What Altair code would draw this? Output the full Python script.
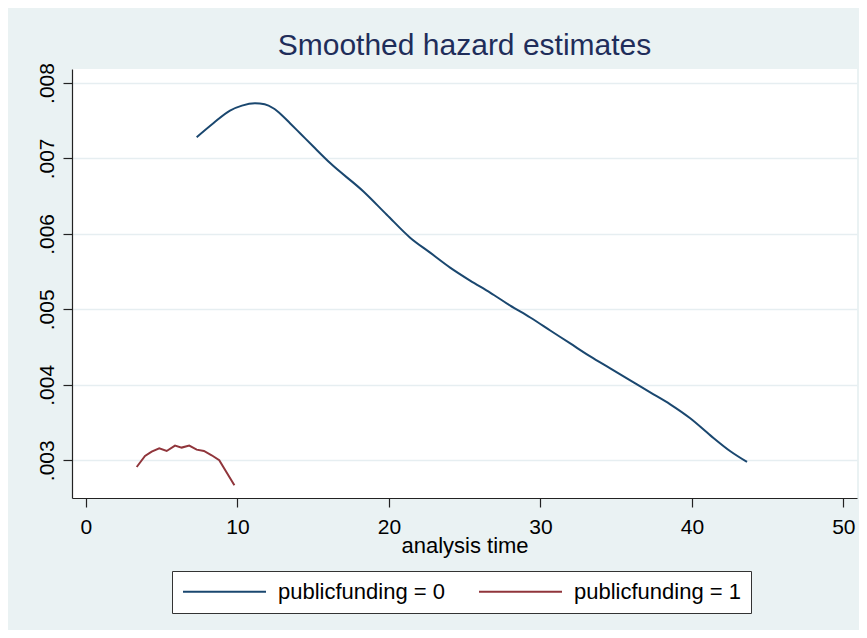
import altair as alt
import pandas as pd

# Smoothed hazard, publicfunding = 0
x0 = [7.31, 8.41, 9.51, 10.30, 11.16, 11.80, 12.37, 12.90, 13.47, 14.20, 15.01,
      16.12, 18.32, 19.86, 21.40, 22.72, 24.04, 25.36, 26.68, 28.01, 29.33,
      30.65, 31.97, 33.29, 34.61, 35.93, 37.25, 38.57, 39.89, 41.22, 42.54, 43.64]
y0 = [0.007282, 0.007467, 0.007634, 0.007700, 0.007731, 0.007718, 0.007665,
      0.007580, 0.007467, 0.007320, 0.007157, 0.006938, 0.006562, 0.006254,
      0.005950, 0.005751, 0.005553, 0.005381, 0.005222, 0.005050, 0.004892,
      0.004720, 0.004548, 0.004376, 0.004217, 0.004058, 0.003899, 0.003741,
      0.003556, 0.003330, 0.003120, 0.002978]

# Smoothed hazard, publicfunding = 1
x1 = [3.35, 3.90, 4.34, 4.84, 5.33, 5.88, 6.32, 6.82, 7.31, 7.79, 8.30, 8.80, 9.29, 9.80]
y1 = [0.002911, 0.003057, 0.003115, 0.003159, 0.003123, 0.003194, 0.003168,
      0.003194, 0.003141, 0.003123, 0.003066, 0.003000, 0.002837, 0.002669]

groups = ["publicfunding = 0", "publicfunding = 1"]
colors = ["#1A476F", "#90353B"]
x_ticks = [0, 10, 20, 30, 40, 50]
y_ticks = [0.003, 0.004, 0.005, 0.006, 0.007, 0.008]

df = pd.concat([
    pd.DataFrame({"t": x0, "h": y0, "group": groups[0], "order": range(len(x0))}),
    pd.DataFrame({"t": x1, "h": y1, "group": groups[1], "order": range(len(x1))}),
])

FONT = "Liberation Sans"

x_enc = alt.X("t:Q",
              scale=alt.Scale(domain=[-0.92, 50.9], nice=False, zero=False),
              axis=alt.Axis(values=x_ticks, title="analysis time", grid=False,
                            labelFontSize=21, titleFontSize=22, labelPadding=9,
                            titlePadding=-2, tickSize=9, labelFlush=False))
y_enc = alt.Y("h:Q",
              scale=alt.Scale(domain=[0.0025, 0.008185], nice=False, zero=False),
              axis=alt.Axis(values=y_ticks, title=None, grid=True,
                            labelExpr="substring(format(datum.value, '.3f'), 1)",
                            labelAngle=-90, labelAlign="center", labelBaseline="bottom",
                            labelFontSize=21, labelPadding=6, tickSize=9,
                            gridColor="#E6EEF1", gridWidth=1.5))
c_enc = alt.Color("group:N",
                  scale=alt.Scale(domain=groups, range=colors),
                  legend=alt.Legend(title=None, orient="none", legendX=100, legendY=502,
                                    direction="horizontal", columns=2,
                                    symbolType="stroke", symbolSize=6889,
                                    symbolStrokeWidth=2, labelFontSize=22,
                                    labelOffset=11, labelLimit=300, columnPadding=33,
                                    padding=10, clipHeight=21, fillColor="white",
                                    strokeColor="#333333", labelColor="black",
                                    labelFont=FONT))

base = alt.Chart(df).encode(x=x_enc, y=y_enc, color=c_enc, order="order:Q")

line0 = base.transform_filter(alt.datum.group == groups[0]).mark_line(
    strokeWidth=2, interpolate="monotone")
line1 = base.transform_filter(alt.datum.group == groups[1]).mark_line(strokeWidth=2)

chart = alt.layer(line0, line1).properties(
    width=785,
    height=429,
    padding={"left": 64, "top": 61, "right": 2, "bottom": 132},
    autosize=alt.AutoSizeParams(type="none"),
    background="#EAF2F3",
    title=alt.TitleParams("Smoothed hazard estimates", fontSize=30, font=FONT,
                          fontWeight="normal", color="#1F2D5A", anchor="middle",
                          baseline="alphabetic", offset=13, dy=35),
).configure_view(
    fill="white", stroke=None
).configure_axis(
    domainColor="#222222", tickColor="#222222", labelColor="black",
    titleColor="black", labelFont=FONT, titleFont=FONT,
    titleFontWeight="normal", domainWidth=1.2, tickWidth=1.2
)

chart.save("out.html", embed_options={"renderer": "svg", "actions": False})
